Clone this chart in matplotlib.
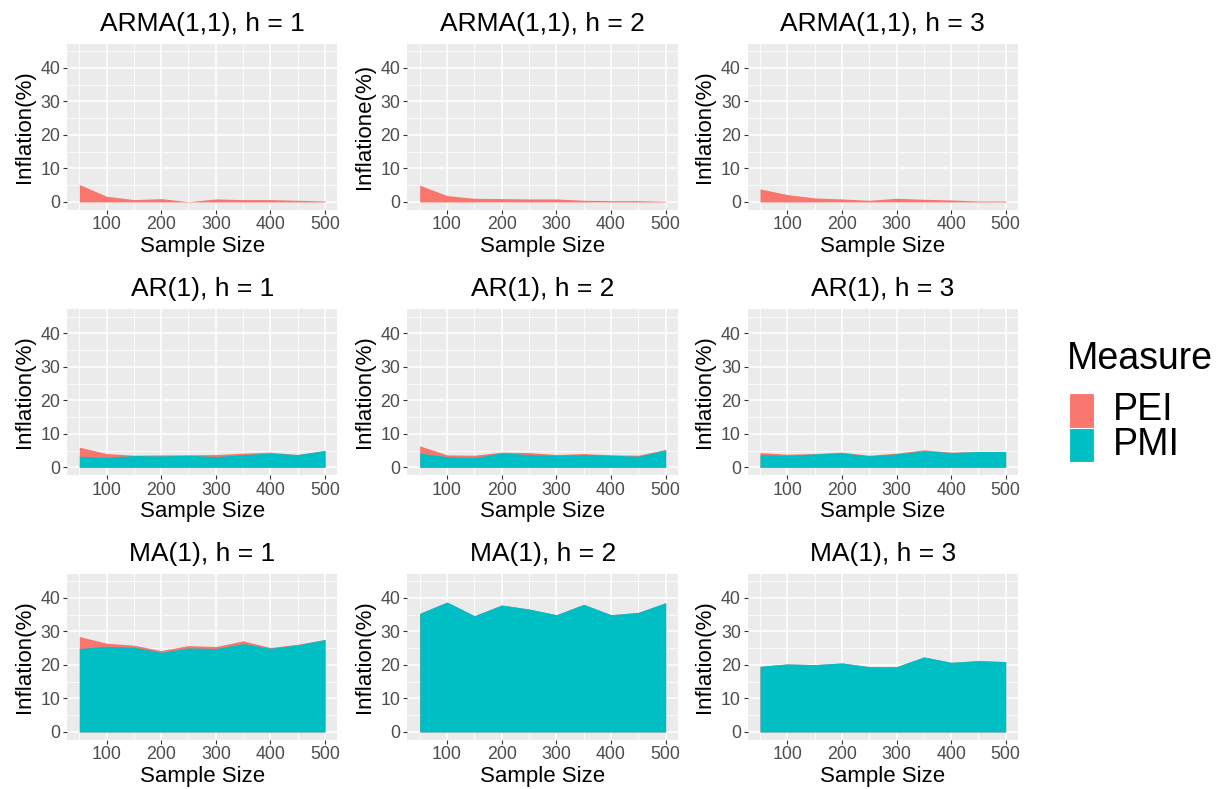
import numpy as np
import matplotlib
matplotlib.use('Agg')
import matplotlib.pyplot as plt
from matplotlib.patches import Rectangle

plt.rcParams['font.family'] = ['Liberation Sans', 'DejaVu Sans']

# sample sizes
sizes = [50, 100, 150, 200, 250, 300, 350, 400, 450, 500]

# PEI / PMI inflation (%) for each model and horizon
arma_h1_pei = [5.2, 1.7, 0.7, 1.0, 0.1, 0.9, 0.7, 0.7, 0.5, 0.3]
arma_h1_pmi = [0, 0, 0, 0, 0, 0, 0, 0, 0, 0]
arma_h2_pei = [5.0, 1.9, 1.1, 1.0, 0.9, 0.9, 0.5, 0.4, 0.4, 0.2]
arma_h2_pmi = [0, 0, 0, 0, 0, 0, 0, 0, 0, 0]
arma_h3_pei = [3.9, 2.2, 1.2, 0.9, 0.5, 1.1, 0.8, 0.6, 0.3, 0.3]
arma_h3_pmi = [0, 0, 0, 0, 0, 0, 0, 0, 0, 0]

ar_h1_pei = [6.0, 4.1, 3.6, 3.7, 3.7, 3.8, 4.2, 4.5, 3.8, 5.0]
ar_h1_pmi = [3.3, 3.0, 3.5, 3.4, 3.6, 3.2, 3.8, 4.2, 3.8, 5.0]
ar_h2_pei = [6.4, 3.7, 3.6, 4.5, 4.4, 3.8, 4.1, 3.7, 3.6, 5.3]
ar_h2_pmi = [4.2, 3.2, 2.9, 4.3, 3.8, 3.6, 3.8, 3.6, 3.3, 5.2]
ar_h3_pei = [4.4, 3.9, 4.1, 4.5, 3.6, 4.2, 5.2, 4.5, 4.7, 4.7]
ar_h3_pmi = [3.8, 3.6, 4.0, 4.3, 3.4, 4.0, 4.9, 4.4, 4.7, 4.7]

ma_h1_pei = [28.5, 26.5, 25.9, 24.3, 25.8, 25.5, 27.2, 25.2, 26.2, 27.6]
ma_h1_pmi = [24.9, 25.6, 25.3, 23.8, 25.1, 24.9, 26.4, 25.0, 26.0, 27.6]
ma_h2_pei = [35.4, 38.8, 34.7, 37.9, 36.7, 35.0, 38.1, 35.0, 35.7, 38.6]
ma_h2_pmi = [35.4, 38.8, 34.7, 37.9, 36.7, 35.0, 38.1, 35.0, 35.7, 38.6]
ma_h3_pei = [19.6, 20.3, 20.1, 20.6, 19.5, 19.5, 22.4, 20.8, 21.3, 21.0]
ma_h3_pmi = [19.6, 20.3, 20.1, 20.6, 19.5, 19.5, 22.4, 20.8, 21.3, 21.0]

titles = ['ARMA(1,1), h = 1', 'ARMA(1,1), h = 2', 'ARMA(1,1), h = 3',
          'AR(1), h = 1', 'AR(1), h = 2', 'AR(1), h = 3',
          'MA(1), h = 1', 'MA(1), h = 2', 'MA(1), h = 3']
ylabels = ['Inflation(%)', 'Inflatione(%)', 'Inflation(%)'] + ['Inflation(%)'] * 6
pei_all = [arma_h1_pei, arma_h2_pei, arma_h3_pei, ar_h1_pei, ar_h2_pei, ar_h3_pei,
           ma_h1_pei, ma_h2_pei, ma_h3_pei]
pmi_all = [arma_h1_pmi, arma_h2_pmi, arma_h3_pmi, ar_h1_pmi, ar_h2_pmi, ar_h3_pmi,
           ma_h1_pmi, ma_h2_pmi, ma_h3_pmi]

PEI_COL = '#F8766D'
PMI_COL = '#00BFC4'

fig = plt.figure(figsize=(12.2, 7.89), dpi=100)

lefts = [67 / 1220, 407.4 / 1220, 747.7 / 1220]
widths = [270.3 / 1220, 270.6 / 1220, 270.3 / 1220]
bottoms = [1 - 209.5 / 789, 1 - 474.8 / 789, 1 - 739.5 / 789]
height = 165.8 / 789

for i in range(9):
    r, c = divmod(i, 3)
    ax = fig.add_axes([lefts[c], bottoms[r], widths[c], height])
    ax.set_facecolor('#EBEBEB')
    for s in ax.spines.values():
        s.set_visible(False)
    ax.fill_between(sizes, pei_all[i], 0, color=PEI_COL, lw=0, zorder=3)
    ax.fill_between(sizes, pmi_all[i], 0, color=PMI_COL, lw=0, zorder=4)
    ax.set_xlim(27.5, 522.5)
    ax.set_ylim(-2.25, 47.25)
    ax.set_xticks([100, 200, 300, 400, 500])
    ax.set_xticks([50, 150, 250, 350, 450], minor=True)
    ax.set_yticks([0, 10, 20, 30, 40])
    ax.set_yticks([5, 15, 25, 35, 45], minor=True)
    ax.grid(which='major', color='white', lw=1.1, zorder=1)
    ax.grid(which='minor', color='white', lw=0.55, zorder=1)
    ax.set_axisbelow(True)
    ax.tick_params(which='major', length=3, width=0.8, color='#333333',
                   labelcolor='#4D4D4D', labelsize=12.8, pad=2)
    ax.tick_params(which='minor', length=0)
    ax.set_title(titles[i], fontsize=19, pad=9.5)
    ax.set_xlabel('Sample Size', fontsize=16, labelpad=1.5)
    ax.set_ylabel(ylabels[i], fontsize=16, labelpad=4)

# legend
fig.text(1067 / 1220, 1 - 369 / 789, 'Measure', fontsize=27, ha='left', va='baseline')
key_w = 25 / 1220
key_h = 34.5 / 789
fig.add_artist(Rectangle((1069 / 1220, 1 - 427.5 / 789), key_w, key_h,
                         transform=fig.transFigure, facecolor=PEI_COL, edgecolor='white', lw=0.8))
fig.add_artist(Rectangle((1069 / 1220, 1 - 462 / 789), key_w, key_h,
                         transform=fig.transFigure, facecolor=PMI_COL, edgecolor='white', lw=0.8))
fig.text(1113 / 1220, 1 - 410 / 789, 'PEI', fontsize=27, ha='left', va='center')
fig.text(1113 / 1220, 1 - 445 / 789, 'PMI', fontsize=27, ha='left', va='center')

fig.savefig('out.png', dpi=100, facecolor='white')
